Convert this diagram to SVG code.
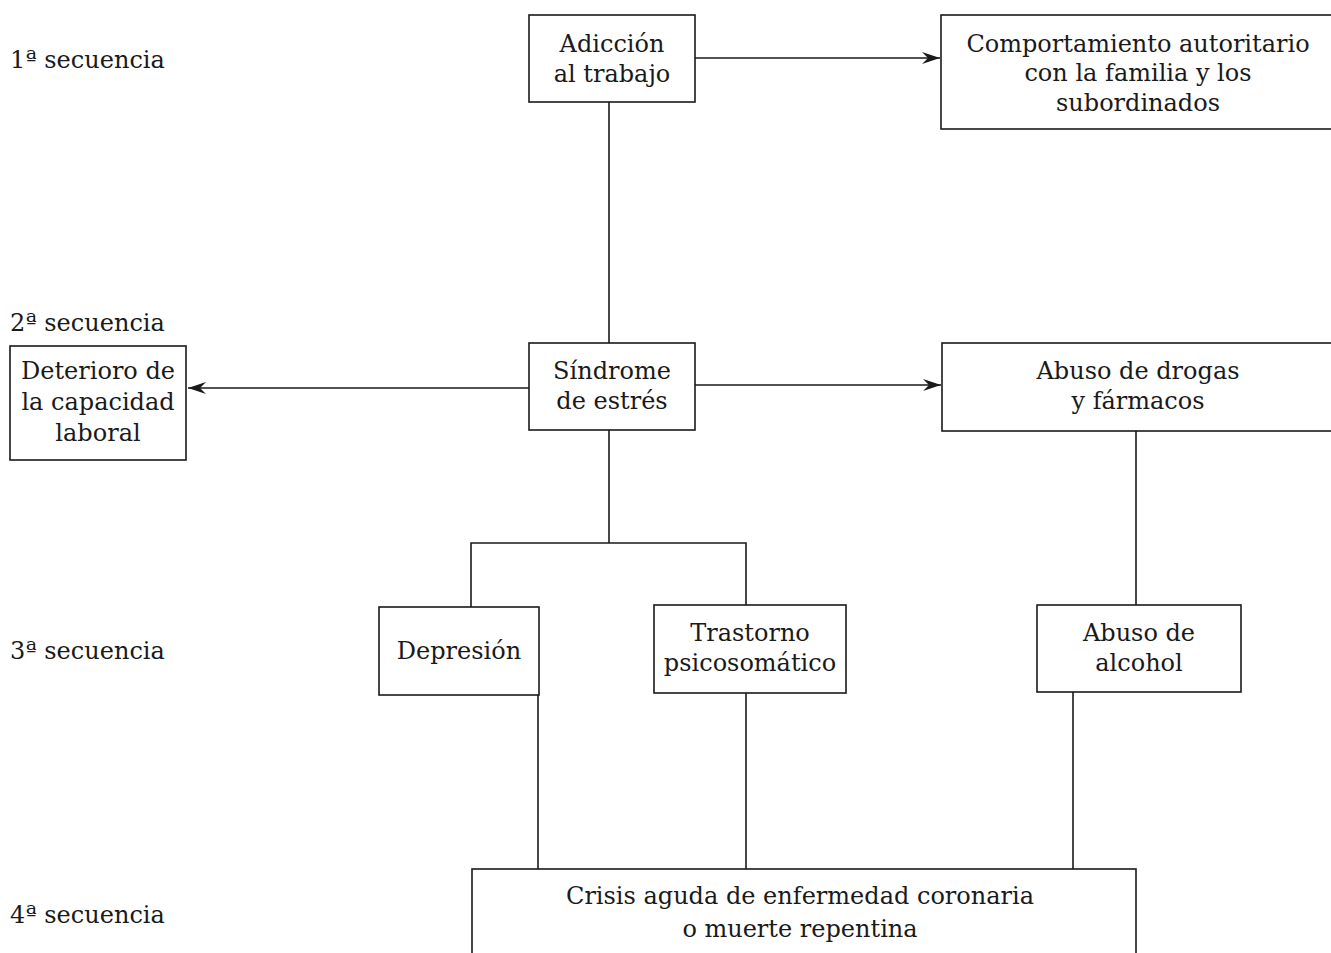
<svg xmlns="http://www.w3.org/2000/svg" width="1331" height="953" viewBox="0 0 1331 953">
<style>
.box{fill:#fff;stroke:#1a1a1a;stroke-width:1.6}
.t{font-family:"DejaVu Serif","Liberation Serif",serif;font-size:24px;fill:#1a1a1a;text-anchor:middle}
.lbl{font-family:"DejaVu Serif","Liberation Serif",serif;font-size:24px;fill:#1a1a1a}
.c{fill:none;stroke:#1a1a1a;stroke-width:1.6}
</style>
<defs>
<marker id="arr" viewBox="0 0 18 12" refX="18" refY="6" markerWidth="18" markerHeight="12" markerUnits="userSpaceOnUse" orient="auto">
<path d="M0,0 L18,6 L0,12 L6,6 z" fill="#1a1a1a"/>
</marker>
</defs>
<rect width="1331" height="953" fill="#fff"/>
<g id="labels">
<text class="lbl" x="10" y="68">1ª secuencia</text>
<text class="lbl" x="10" y="331">2ª secuencia</text>
<text class="lbl" x="10" y="659">3ª secuencia</text>
<text class="lbl" x="10" y="923">4ª secuencia</text>
</g>
<g id="connectors">
<line class="c" x1="695" y1="58" x2="940" y2="58" marker-end="url(#arr)"/>
<line class="c" x1="609" y1="102" x2="609" y2="343"/>
<line class="c" x1="529" y1="388" x2="188" y2="388" marker-end="url(#arr)"/>
<line class="c" x1="695" y1="385" x2="941" y2="385" marker-end="url(#arr)"/>
<polyline class="c" points="609,430 609,543"/>
<polyline class="c" points="471,607 471,543 746,543 746,605"/>
<line class="c" x1="1136" y1="431" x2="1136" y2="605"/>
<line class="c" x1="538" y1="695" x2="538" y2="869"/>
<line class="c" x1="746" y1="693" x2="746" y2="869"/>
<line class="c" x1="1073" y1="692" x2="1073" y2="869"/>
</g>
<g id="adiccion">
<rect class="box" x="529" y="15" width="166" height="87"/>
<text class="t" x="612" y="52">Adicción</text>
<text class="t" x="612" y="82">al trabajo</text>
</g>
<g id="comportamiento">
<rect class="box" x="941" y="15" width="400" height="114"/>
<text class="t" x="1138" y="52">Comportamiento autoritario</text>
<text class="t" x="1138" y="81">con la familia y los</text>
<text class="t" x="1138" y="111">subordinados</text>
</g>
<g id="sindrome">
<rect class="box" x="529" y="343" width="166" height="87"/>
<text class="t" x="612" y="379">Síndrome</text>
<text class="t" x="612" y="409">de estrés</text>
</g>
<g id="deterioro">
<rect class="box" x="10" y="346" width="176" height="114"/>
<text class="t" x="98" y="379">Deterioro de</text>
<text class="t" x="98" y="410">la capacidad</text>
<text class="t" x="98" y="441">laboral</text>
</g>
<g id="drogas">
<rect class="box" x="942" y="343" width="400" height="88"/>
<text class="t" x="1138" y="379">Abuso de drogas</text>
<text class="t" x="1138" y="409">y fármacos</text>
</g>
<g id="depresion">
<rect class="box" x="379" y="607" width="160" height="88"/>
<text class="t" x="459" y="659">Depresión</text>
</g>
<g id="trastorno">
<rect class="box" x="654" y="605" width="192" height="88"/>
<text class="t" x="750" y="641">Trastorno</text>
<text class="t" x="750" y="671">psicosomático</text>
</g>
<g id="alcohol">
<rect class="box" x="1037" y="605" width="204" height="87"/>
<text class="t" x="1139" y="641">Abuso de</text>
<text class="t" x="1139" y="671">alcohol</text>
</g>
<g id="crisis">
<rect class="box" x="472" y="869" width="664" height="100"/>
<text class="t" x="800" y="904">Crisis aguda de enfermedad coronaria</text>
<text class="t" x="800" y="937">o muerte repentina</text>
</g>
</svg>
